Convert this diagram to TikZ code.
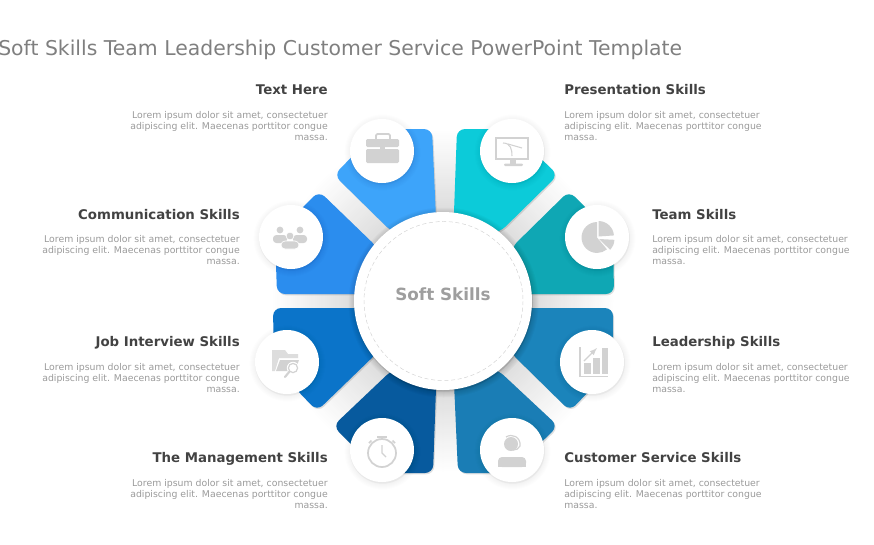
\documentclass[tikz,border=0pt]{standalone}
\usepackage{fontspec}
\setmainfont{DejaVu Sans}
\definecolor{titlegray}{HTML}{7F7F7F}
\definecolor{headgray}{HTML}{424242}
\definecolor{bodygray}{HTML}{9A9A9A}
\definecolor{icongray}{HTML}{D2D2D2}
\definecolor{presentcol}{HTML}{0CCBD9}
\definecolor{teamcol}{HTML}{0FA7B4}
\definecolor{leadcol}{HTML}{1B84BB}
\definecolor{customcol}{HTML}{1A7DB5}
\definecolor{managecol}{HTML}{075A9E}
\definecolor{jobcol}{HTML}{0B74C9}
\definecolor{commcol}{HTML}{2B8DEE}
\definecolor{textcol}{HTML}{3DA4FA}
\tikzset{
  petal/.style={rounded corners=6pt, preaction={fill=black, opacity=.12, transform canvas={shift={(.8pt,-1pt)}}}},
  headtext/.style={font=\fontsize{10}{12}\selectfont\bfseries, text=headgray, inner sep=0pt},
  bodyleft/.style={font=\fontsize{7}{8.6}\selectfont, text=bodygray, inner sep=0pt, align=right, anchor=east},
  bodyright/.style={font=\fontsize{7}{8.6}\selectfont, text=bodygray, inner sep=0pt, align=left, anchor=west},
  icon/.style={fill=icongray, draw=none},
}
\newcommand{\discshadow}[4]{% soft shadow of a disc, #4 is its strength
  \foreach \grow in {0,1,...,6} {
    \fill[black, opacity=#4] (#1+.6,#2+1.5) circle (#3+\grow);
  }
  \fill[black, opacity=4*#4] (#1+.5,#2+1.2) circle (#3+.5);
}
\begin{document}
\begin{tikzpicture}[x=.75pt,y=-.75pt]
  \useasboundingbox (0,0) rectangle (874,544);
  % gaps between the petals
  \foreach \ring in {0,1,...,40} {
    \pgfmathsetmacro{\shadeval}{\ring*0.325}
    \fill[black!\shadeval] (443,301) circle (172-2*\ring);
  }

  \fill[textcol,petal] (437,240) -- (432,129) -- (379,129) -- (334,175) -- (392,232) -- cycle;
  \fill[presentcol,petal] (453,240) -- (457,129) -- (510,129) -- (558,175) -- (500,232) -- cycle;
  \fill[commcol,petal] (378,248) -- (319,191) -- (275,235) -- (277,294) -- (370,294) -- cycle;
  \fill[teamcol,petal] (511,248) -- (569,191) -- (613,235) -- (614,294) -- (520,294) -- cycle;
  \fill[jobcol,petal] (370,308) -- (273,308) -- (274,366) -- (317,411) -- (378,352) -- cycle;
  \fill[leadcol,petal] (518,308) -- (613,308) -- (613,366) -- (570,411) -- (510,352) -- cycle;
  \fill[managecol,petal] (392,370) -- (333,426) -- (380,473) -- (433,473) -- (437,360) -- cycle;
  \fill[customcol,petal] (498,370) -- (558,426) -- (510,473) -- (458,473) -- (453,360) -- cycle;

  \discshadow{443}{301}{89}{.025}
  \fill[white] (443,301) circle (89);
  \draw[icongray, densely dashed, line width=.35pt] (443.5,301) circle (79.5);
  \node[font=\fontsize{12.6}{15}\selectfont\bfseries, text=black!38, inner sep=0pt] (center) at (443,294) {Soft Skills};

  \foreach \cx/\cy in {382/151,512/151,291/237,597/237,287/362,592/362,382/450,512/450} {
    \discshadow{\cx}{\cy}{32}{.009}
    \fill[white] (\cx,\cy) circle (32);
  }

  % briefcase
  \draw[icongray, line width=1.3pt, rounded corners=1pt] (376,140) -- (376,134) -- (390,134) -- (390,140);
  \fill[icon, rounded corners=1pt] (366,139) rectangle (399,147);
  \fill[icon, rounded corners=1pt] (366,149) rectangle (399,163);
  \fill[icon] (380,146) rectangle (385,151);
  % monitor
  \draw[icongray, line width=1.2pt] (496,138) rectangle (528,159);
  \fill[icon] (510,159) rectangle (516,164);
  \fill[icon, rounded corners=.8pt] (504,163.5) rectangle (523,166);
  \draw[icongray, line width=.8pt] (503,143) .. controls (511,143) and (512,150) .. (512,156);
  \draw[icongray, line width=.8pt] (508,144) -- (522,148);
  % people
  \fill[icon] (280,230) circle (3.4);
  \fill[icon] (300,230) circle (3.4);
  \fill[icon, rounded corners=2.5pt] (273,243) -- (273,235) -- (287,235) -- (287,243) -- cycle;
  \fill[icon, rounded corners=2.5pt] (293,243) -- (293,235) -- (307,235) -- (307,243) -- cycle;
  \fill[icon, draw=white, line width=.5pt] (290,236) circle (3.9);
  \fill[icon, draw=white, line width=.5pt, rounded corners=3pt] (281,249) -- (281,241) -- (299,241) -- (299,249) -- cycle;
  % pie
  \fill[icon] (597,237.5) -- ++(90:11.6pt) arc[start angle=90, end angle=310, radius=11.6pt] -- cycle;
  \fill[icon] (598.5,236.5) -- ++(90:11.6pt) arc[start angle=90, end angle=4, radius=11.6pt] -- cycle;
  \fill[icon] (599,239) -- ++(-3:11.6pt) arc[start angle=-3, end angle=-44, radius=11.6pt] -- cycle;
  % folder
  \fill[icongray!75!white] (272,350) -- (285,350) -- (288,354) -- (298,354) -- (298,358) -- (279,358) -- (275,371) -- (272,371) -- cycle;
  \fill[icon] (280,360) -- (299,360) -- (295,371) -- (276,371) -- cycle;
  \fill[white] (293,368) circle (6.2);
  \draw[icongray, line width=.9pt] (293,368) circle (4.6);
  \draw[icongray, line width=1.6pt, line cap=round] (289.5,371.5) -- (285,377);
  % bars
  \fill[icon] (579,347) rectangle (581,377);
  \fill[icon] (579,375.5) rectangle (608,377);
  \fill[icon] (584,363) rectangle (591,373.5);
  \fill[icon] (593,358) rectangle (600,373.5);
  \fill[icon] (601.5,348) rectangle (608,373.5);
  \draw[icongray, line width=.9pt, -latex] (584,361) -- (597,348);
  % head with headset
  \fill[icon] (511,444) circle (7);
  \draw[icongray, line width=.9pt] (506,437) .. controls (512,433) and (521,437) .. (520,446) .. controls (519,449) and (516,450) .. (513,450);
  \fill[icon, rounded corners=3pt] (498,467) -- (498,457) -- (526,457) -- (526,467) -- cycle;
  \fill[icon] (498,462) rectangle (526,467);
  % stopwatch
  \draw[icongray, line width=1.3pt] (382,453) circle (14);
  \fill[icon] (377,436) rectangle (387,438);
  \fill[icon] (380.7,438) rectangle (383.3,440);
  \draw[icongray, line width=1.2pt] (392.5,440.5) -- (395,443);
  \draw[icongray, line width=1.2pt] (371.5,440.5) -- (369,443);
  \draw[icongray, line width=.9pt] (382,445) -- (382,453) -- (386,457);

  \node[font=\fontsize{15.3}{18}\selectfont, text=titlegray, anchor=base west, inner sep=0pt] (title) at (-2,55) {Soft Skills Team Leadership Customer Service PowerPoint Template};

  \node[headtext, anchor=base east] (h1) at (328,94) {Text Here};
  \node[headtext, anchor=base east] (h2) at (240,219) {Communication Skills};
  \node[headtext, anchor=base east] (h3) at (240,346) {Job Interview Skills};
  \node[headtext, anchor=base east] (h4) at (328,462) {The Management Skills};
  \node[headtext, anchor=base west] (h5) at (564,94) {Presentation Skills};
  \node[headtext, anchor=base west] (h6) at (652,219) {Team Skills};
  \node[headtext, anchor=base west] (h7) at (652,346) {Leadership Skills};
  \node[headtext, anchor=base west] (h8) at (564,462) {Customer Service Skills};

  \foreach \name/\bx/\by in {b1/328/126,b2/240/250,b3/240/378,b4/328/494} {
    \node[bodyleft] (\name) at (\bx,\by) {Lorem ipsum dolor sit amet, consectetuer\\adipiscing elit. Maecenas porttitor congue\\massa.};
  }
  \foreach \name/\bx/\by in {b5/564/126,b6/652/250,b7/652/378,b8/564/494} {
    \node[bodyright] (\name) at (\bx,\by) {Lorem ipsum dolor sit amet, consectetuer\\adipiscing elit. Maecenas porttitor congue\\massa.};
  }
\end{tikzpicture}
\end{document}
